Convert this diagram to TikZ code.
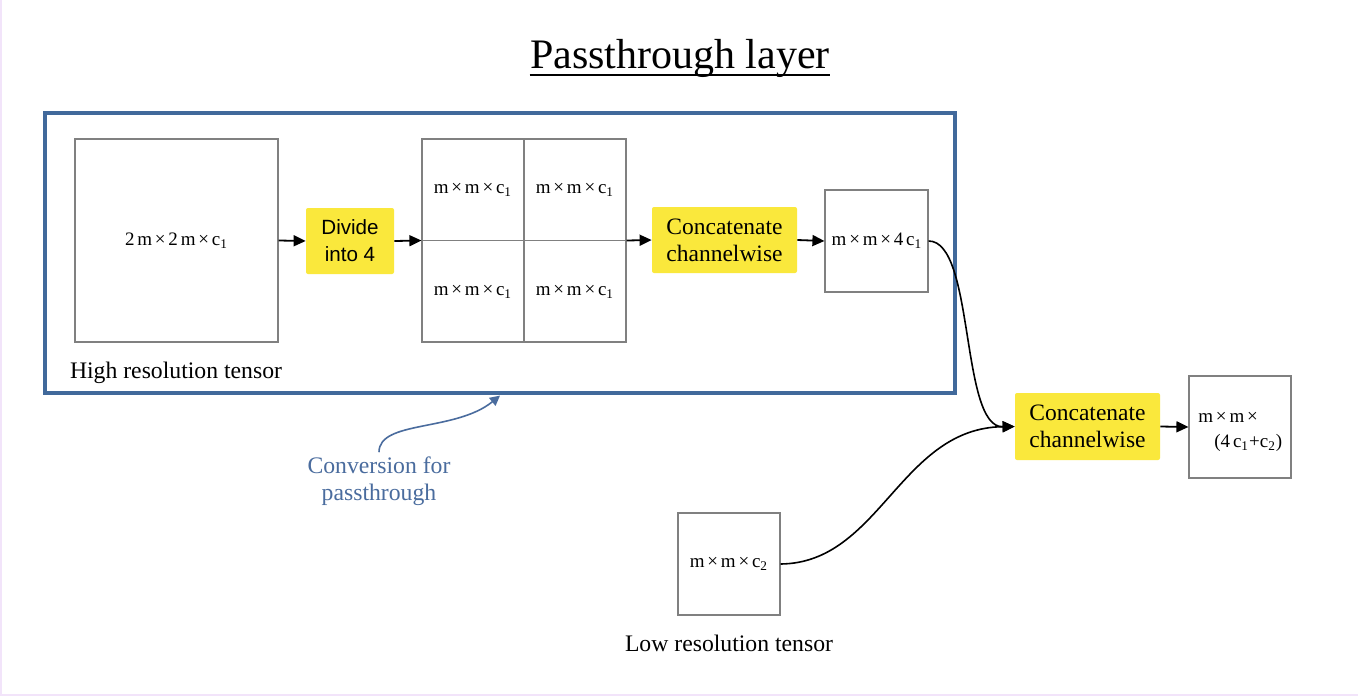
\documentclass[tikz,border=0pt]{standalone}
\usepackage{fontspec}
\setmainfont{Liberation Serif}
\newfontfamily\arialf{Liberation Sans}
\usetikzlibrary{arrows.meta}
\definecolor{boxgray}{RGB}{128,128,128}
\definecolor{hiyellow}{RGB}{250,232,60}
\definecolor{frameblue}{RGB}{65,105,155}
\definecolor{textblue}{RGB}{74,108,158}
\definecolor{edgelav}{RGB}{242,228,250}
\newcommand\gp{\hspace{1.4pt}}
\newcommand\tx{\gp×\gp}
\begin{document}
\begin{tikzpicture}[x=0.5pt,y=-0.5pt,
  tensor/.style={draw=boxgray,line width=0.6pt,fill=white,inner sep=0pt},
  opbox/.style={fill=hiyellow,rounded corners=1pt,inner sep=0pt,align=center},
  dimtext/.style={font=\fontsize{9.5}{11}\selectfont,inner sep=0pt},
  caption/.style={font=\fontsize{11.85}{15}\selectfont,inner sep=0pt},
  flow/.style={line width=0.9pt,-{Triangle[length=6pt,width=5.5pt]}},
  curveflow/.style={line width=0.8pt,-{Triangle[length=6pt,width=5.5pt]}}
]
\useasboundingbox (0,0) rectangle (1358,696);
\draw[edgelav,line width=1.2pt,fill=white] (0.6,-2) rectangle (1360,694.8);

% title
\node[anchor=base,inner sep=0pt,font=\fontsize{21}{25}\selectfont] (title) at (680,68) {Passthrough layer};
\draw[line width=1pt] ([yshift=-3.6pt]title.base west) -- ([yshift=-3.6pt]title.base east);

% frame
\node[draw=frameblue,line width=1.6pt,minimum width=455pt,minimum height=140pt,inner sep=0pt] (frame) at (500,253) {};

% high resolution tensor
\node[tensor,minimum width=101.5pt,minimum height=101.5pt] (big) at (176.5,240.5) {};
\node[dimtext] (bigl) at (big.center) {2\gp m\tx 2\gp m\tx c\textsubscript{1}};
\node[caption] (hrt) at (176,373) {High resolution tensor};

% divide
\node[opbox,minimum width=44pt,minimum height=33pt,font=\arialf\fontsize{10.3}{13.5}\selectfont] (div) at (350,241) {Divide\\into 4};

% grid
\node[tensor,minimum width=102pt,minimum height=101.5pt] (grid) at (524,240.5) {};
\draw[boxgray,line width=0.6pt] (grid.north) -- (grid.south);
\draw[boxgray,line width=0.6pt] (grid.west) -- (grid.east);
\node[dimtext] (g11) at (473,190) {m\tx m\tx c\textsubscript{1}};
\node[dimtext] (g12) at (575,190) {m\tx m\tx c\textsubscript{1}};
\node[dimtext] (g21) at (473,292) {m\tx m\tx c\textsubscript{1}};
\node[dimtext] (g22) at (575,292) {m\tx m\tx c\textsubscript{1}};

% concat 1
\node[opbox,minimum width=72.5pt,minimum height=33pt,font=\fontsize{11.75}{13.5}\selectfont] (cat1) at (724.5,240) {Concatenate\\channelwise};

% m x m x 4c1
\node[tensor,minimum width=51.5pt,minimum height=51pt] (b4) at (876.5,241) {};
\node[dimtext] (b4l) at (877,241) {m\tx m\tx 4\gp c\textsubscript{1}};

% concat 2
\node[opbox,minimum width=72.5pt,minimum height=33.5pt,font=\fontsize{11.75}{13.5}\selectfont] (cat2) at (1087.5,426.5) {Concatenate\\channelwise};

% final
\node[tensor,minimum width=51pt,minimum height=51pt] (fin) at (1240,427) {};
\node[dimtext,anchor=west] (finl1) at (1198,417) {m\tx m\tx};
\node[dimtext,anchor=west] (finl2) at (1214,443) {(4\gp c\textsubscript{1}+c\textsubscript{2})};

% low resolution tensor
\node[tensor,minimum width=51pt,minimum height=51pt] (low) at (729,564) {};
\node[dimtext] (lowl) at (low.center) {m\tx m\tx c\textsubscript{2}};
\node[caption] (lrt) at (729,643) {Low resolution tensor};

% conversion annotation
\node[align=center,inner sep=0pt,text=textblue,font=\fontsize{11.85}{13.5}\selectfont] (conv) at (379,481) {Conversion for\\passthrough};

% connectors
\draw[flow] (big.east) -- (div.west);
\draw[flow] (div.east) -- (grid.west);
\draw[flow] (grid.east) -- (cat1.west);
\draw[flow] (cat1.east) -- (b4.west);
\draw[flow] (cat2.east) -- (fin.west);
\draw[curveflow] (b4.east) .. controls (975,241) and (960,428) .. (cat2.west);
\draw[curveflow] (low.east) .. controls (880,563) and (900,428) .. (cat2.west);
\draw[textblue,line width=0.8pt,-{Triangle[length=5pt,width=5pt]}] ([yshift=2pt]conv.north) .. controls (379,420) and (455,432) .. ([yshift=-0.5pt]frame.south);
\end{tikzpicture}
\end{document}
